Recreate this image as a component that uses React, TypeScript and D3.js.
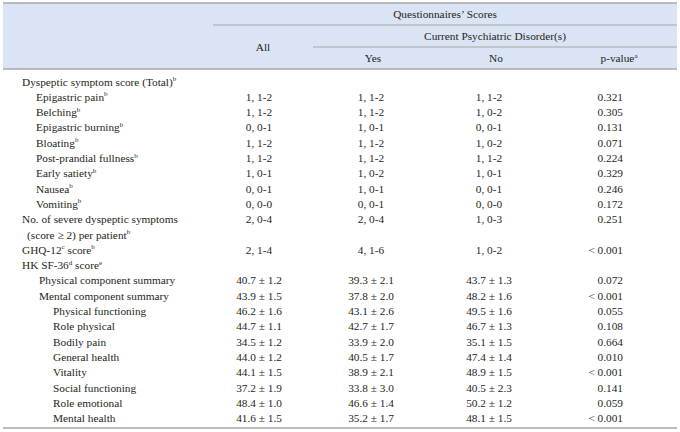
import React from "react";
import * as d3 from "d3";

// ---- data ----
const rowLabels: string[] = [
  "Dyspeptic symptom score (Total)^b",
  "Epigastric pain^b",
  "Belching^b",
  "Epigastric burning^b",
  "Bloating^b",
  "Post-prandial fullness^b",
  "Early satiety^b",
  "Nausea^b",
  "Vomiting^b",
  "No. of severe dyspeptic symptoms",
  "(score \u2265 2) per patient^b",
  "GHQ-12^c score^b",
  "HK SF-36^d score^e",
  "Physical component summary",
  "Mental component summary",
  "Physical functioning",
  "Role physical",
  "Bodily pain",
  "General health",
  "Vitality",
  "Social functioning",
  "Role emotional",
  "Mental health",
];
const rowLevels: number[] = [0, 1, 1, 1, 1, 1, 1, 1, 1, 0, 4, 0, 0, 2, 2, 3, 3, 3, 3, 3, 3, 3, 3];

const allValues: string[] = [
  "", "1, 1-2", "1, 1-2", "0, 0-1", "1, 1-2", "1, 1-2", "1, 0-1", "0, 0-1", "0, 0-0",
  "2, 0-4", "", "2, 1-4", "",
  "40.7 \u00b1 1.2", "43.9 \u00b1 1.5", "46.2 \u00b1 1.6", "44.7 \u00b1 1.1", "34.5 \u00b1 1.2",
  "44.0 \u00b1 1.2", "44.1 \u00b1 1.5", "37.2 \u00b1 1.9", "48.4 \u00b1 1.0", "41.6 \u00b1 1.5",
];
const yesValues: string[] = [
  "", "1, 1-2", "1, 1-2", "1, 0-1", "1, 1-2", "1, 1-2", "1, 0-2", "1, 0-1", "0, 0-1",
  "2, 0-4", "", "4, 1-6", "",
  "39.3 \u00b1 2.1", "37.8 \u00b1 2.0", "43.1 \u00b1 2.6", "42.7 \u00b1 1.7", "33.9 \u00b1 2.0",
  "40.5 \u00b1 1.7", "38.9 \u00b1 2.1", "33.8 \u00b1 3.0", "46.6 \u00b1 1.4", "35.2 \u00b1 1.7",
];
const noValues: string[] = [
  "", "1, 1-2", "1, 0-2", "0, 0-1", "1, 0-2", "1, 1-2", "1, 0-1", "0, 0-1", "0, 0-0",
  "1, 0-3", "", "1, 0-2", "",
  "43.7 \u00b1 1.3", "48.2 \u00b1 1.6", "49.5 \u00b1 1.6", "46.7 \u00b1 1.3", "35.1 \u00b1 1.5",
  "47.4 \u00b1 1.4", "48.9 \u00b1 1.5", "40.5 \u00b1 2.3", "50.2 \u00b1 1.2", "48.1 \u00b1 1.5",
];
const pValues: string[] = [
  "", "0.321", "0.305", "0.131", "0.071", "0.224", "0.329", "0.246", "0.172",
  "0.251", "", "< 0.001", "",
  "0.072", "< 0.001", "0.055", "0.108", "0.664", "0.010", "< 0.001", "0.141", "0.059", "< 0.001",
];

const headerTop = "Questionnaires\u2019 Scores";
const headerMid = "Current Psychiatric Disorder(s)";
const headerAll = "All";
const headerSub: string[] = ["Yes", "No", "p-value^a"];

// ---- layout ----
const W = 680;
const H = 432;
const FONT = "'Liberation Serif', 'Times New Roman', serif";
const FS = 11.3;
const TEXT = "#231f20";
const LINE = "#a7a7a7";
const HEAD_BG = "#dbe4f4";
const indents = [22, 36, 39, 53, 27];

function Rich({ s, x, y, anchor }: { s: string; x: number; y: number; anchor?: string }) {
  const parts = s.split(/\^(\w)/);
  const nodes: React.ReactNode[] = [];
  let raised = false;
  parts.forEach((p, i) => {
    if (i % 2 === 1) {
      nodes.push(
        <tspan key={i} dy={-4.5} fontSize={7}>{p}</tspan>
      );
      raised = true;
    } else if (p) {
      nodes.push(
        <tspan key={i} dy={raised ? 4.5 : 0}>{p}</tspan>
      );
      raised = false;
    }
  });
  return (
    <text x={x} y={y} textAnchor={anchor || "start"} fontFamily={FONT} fontSize={FS} fill={TEXT}>
      {nodes}
    </text>
  );
}

export default function App() {
  const y = d3.scaleLinear().domain([0, rowLabels.length - 1]).range([81.5, 81.5 + 15.3 * (rowLabels.length - 1)]);
  const base = 4;
  const cols = { all: 259, yes: 371, no: 489, pRight: 623 };
  return (
    <svg width={W} height={H} style={{ position: "absolute", left: 0, top: 0, background: "#fff" }}>
      <rect x={3} y={3} width={674} height={66} fill={HEAD_BG} />
      <line x1={3} x2={677} y1={3} y2={3} stroke={LINE} strokeWidth={1.5} />
      <line x1={213} x2={677} y1={25} y2={25} stroke={LINE} strokeWidth={1} />
      <line x1={313} x2={677} y1={47} y2={47} stroke={LINE} strokeWidth={1} />
      <line x1={3} x2={677} y1={69} y2={69} stroke={LINE} strokeWidth={1.5} />
      <line x1={3} x2={677} y1={428} y2={428} stroke={LINE} strokeWidth={1.5} />

      <Rich s={headerTop} x={445} y={14 + base} anchor="middle" />
      <Rich s={headerMid} x={495} y={36 + base} anchor="middle" />
      <Rich s={headerAll} x={263} y={47 + base} anchor="middle" />
      {headerSub.map((h, i) => (
        <Rich key={h} s={h} x={[373, 496, 619][i]} y={58 + base} anchor="middle" />
      ))}

      {rowLabels.map((lab, i) => (
        <g key={i}>
          <Rich s={lab} x={indents[rowLevels[i]]} y={y(i) + base} />
          {allValues[i] && <Rich s={allValues[i]} x={cols.all} y={y(i) + base} anchor="middle" />}
          {yesValues[i] && <Rich s={yesValues[i]} x={cols.yes} y={y(i) + base} anchor="middle" />}
          {noValues[i] && <Rich s={noValues[i]} x={cols.no} y={y(i) + base} anchor="middle" />}
          {pValues[i] && <Rich s={pValues[i]} x={cols.pRight} y={y(i) + base} anchor="end" />}
        </g>
      ))}
    </svg>
  );
}
